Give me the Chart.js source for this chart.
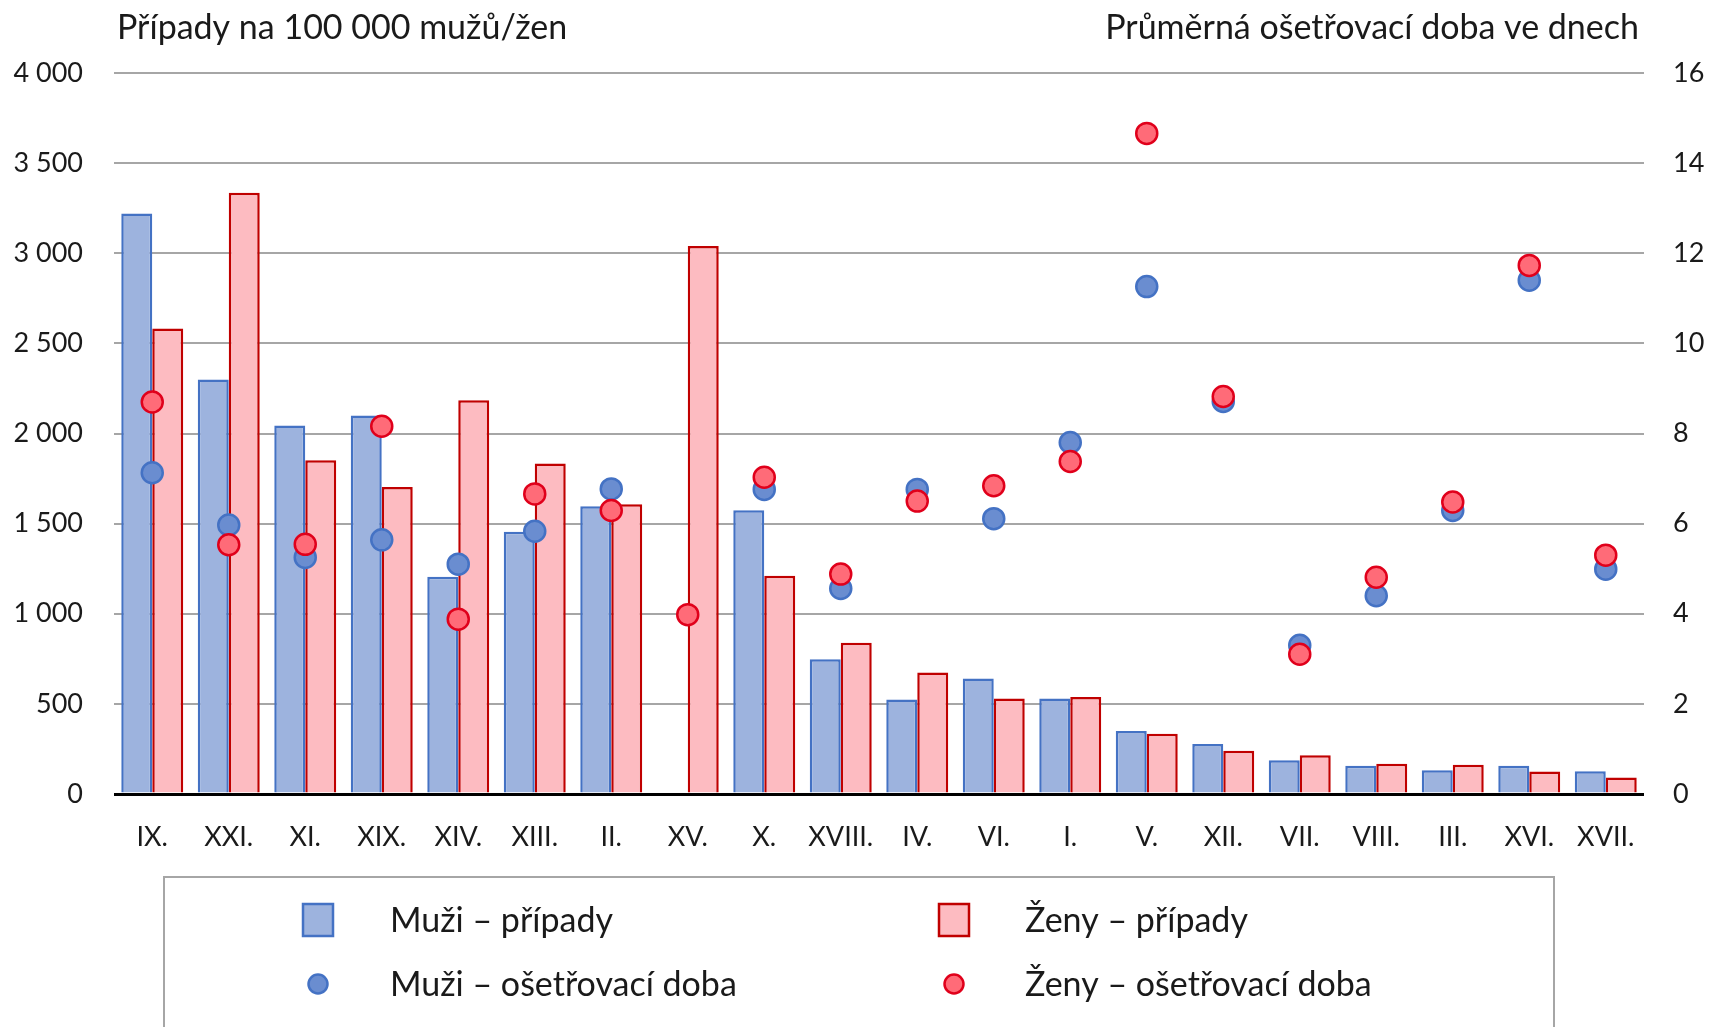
<!DOCTYPE html>
<html>
<head>
<meta charset="utf-8">
<script src="https://cdn.jsdelivr.net/npm/chart.js@4.4.1/dist/chart.umd.min.js"></script>
<style>
  html, body { margin: 0; padding: 0; background: #fff; }
  canvas { display: block; }
</style>
</head>
<body>
<canvas id="chart" width="1709" height="1027"></canvas>
<script>
// categories (diagnosis chapters) in the order shown
const categories = ["IX.", "XXI.", "XI.", "XIX.", "XIV.", "XIII.", "II.", "XV.", "X.", "XVIII.",
  "IV.", "VI.", "I.", "V.", "XII.", "VII.", "VIII.", "III.", "XVI.", "XVII."];

// cases per 100 000 men / women (left axis)
const muziPripady = [3220, 2300, 2045, 2100, 1205, 1455, 1597, null, 1574, 748,
  524, 641, 530, 350, 278, 187, 157, 132, 157, 126];
const zenyPripady = [2582, 3335, 1852, 1703, 2184, 1833, 1608, 3040, 1211, 839,
  674, 530, 538, 334, 240, 215, 168, 162, 125, 91];

// average treatment length in days (right axis)
const muziDoba = [7.13, 5.97, 5.25, 5.64, 5.10, 5.83, 6.77, null, 6.76, 4.56,
  6.76, 6.11, 7.80, 11.26, 8.71, 3.30, 4.40, 6.29, 11.40, 4.99];
const zenyDoba = [8.70, 5.53, 5.54, 8.16, 3.88, 6.66, 6.29, 3.98, 7.03, 4.88,
  6.50, 6.84, 7.38, 14.66, 8.82, 3.10, 4.81, 6.48, 11.73, 5.30];

const leftTitle = "Případy na 100 000 mužů/žen";
const rightTitle = "Průměrná ošetřovací doba ve dnech";

const FONT = "Lato";
const TEXT_SIZE = 34;   // captions + legend
const TICK_SIZE = 27;

const fmt = (v) => String(v).replace(/\B(?=(\d{3})+(?!\d))/g, " ");

// draws the two axis captions on top and the boxed 2x2 legend at the bottom
const extras = {
  id: "extras",
  afterDraw(chart) {
    const ctx = chart.ctx;
    const area = chart.chartArea;
    ctx.save();
    ctx.fillStyle = "#1a1a1a";
    ctx.font = TEXT_SIZE + "px " + FONT;
    ctx.textBaseline = "middle";
    ctx.textAlign = "left";
    ctx.fillText(leftTitle, area.left + 3, 28);
    ctx.textAlign = "right";
    ctx.fillText(rightTitle, area.right - 5, 28);

    // legend box
    ctx.strokeStyle = "#A6A6A6";
    ctx.lineWidth = 2;
    ctx.beginPath();
    ctx.moveTo(164, 1030);
    ctx.lineTo(164, 877);
    ctx.lineTo(1554, 877);
    ctx.lineTo(1554, 1030);
    ctx.stroke();

    const ds = chart.data.datasets;
    const slots = [
      { d: ds[0], x: 318, y: 920, tx: 390 },
      { d: ds[1], x: 954, y: 920, tx: 1025 },
      { d: ds[2], x: 318, y: 984, tx: 390 },
      { d: ds[3], x: 954, y: 984, tx: 1025 },
    ];
    slots.forEach((s) => {
      ctx.lineWidth = 2.5;
      if (s.d.type === "bar") {
        ctx.fillStyle = s.d.backgroundColor;
        ctx.strokeStyle = s.d.borderColor;
        ctx.fillRect(s.x - 15, s.y - 16, 30, 32);
        ctx.strokeRect(s.x - 15, s.y - 16, 30, 32);
      } else {
        ctx.fillStyle = s.d.pointBackgroundColor;
        ctx.strokeStyle = s.d.pointBorderColor;
        ctx.beginPath();
        ctx.arc(s.x, s.y, 9.5, 0, Math.PI * 2);
        ctx.fill();
        ctx.stroke();
      }
      ctx.fillStyle = "#1a1a1a";
      ctx.textAlign = "left";
      ctx.fillText(s.d.label, s.tx, s.y + 1);
    });
    ctx.restore();
  },
};

new Chart(document.getElementById("chart"), {
  data: {
    labels: categories,
    datasets: [
      {
        type: "bar",
        label: "Muži – případy",
        data: muziPripady,
        yAxisID: "y",
        backgroundColor: "#9DB3DE",
        borderColor: "#4472C4",
        borderWidth: 2.5,
        categoryPercentage: 0.81,
        barPercentage: 1.0,
        order: 2,
      },
      {
        type: "bar",
        label: "Ženy – případy",
        data: zenyPripady,
        yAxisID: "y",
        backgroundColor: "#FDBBC1",
        borderColor: "#C00000",
        borderWidth: 2.5,
        categoryPercentage: 0.81,
        barPercentage: 1.0,
        order: 3,
      },
      {
        type: "line",
        label: "Muži – ošetřovací doba",
        data: muziDoba,
        yAxisID: "y1",
        showLine: false,
        pointRadius: 10.5,
        pointBorderWidth: 2.5,
        pointBackgroundColor: "#6A8DD0",
        pointBorderColor: "#4472C4",
        order: 1,
      },
      {
        type: "line",
        label: "Ženy – ošetřovací doba",
        data: zenyDoba,
        yAxisID: "y1",
        showLine: false,
        pointRadius: 10.5,
        pointBorderWidth: 2.5,
        pointBackgroundColor: "#FF6B78",
        pointBorderColor: "#E0001B",
        order: 0,
      },
    ],
  },
  options: {
    responsive: false,
    animation: false,
    devicePixelRatio: 1,
    layout: { padding: { top: 73, left: 0, right: 0, bottom: 0 } },
    plugins: {
      legend: { display: false },
      tooltip: { enabled: false },
    },
    scales: {
      x: {
        offset: true,
        grid: { display: false },
        border: { display: false },
        ticks: {
          color: "#1a1a1a",
          font: { family: FONT, size: TICK_SIZE },
          padding: 19,
          maxRotation: 0,
          autoSkip: false,
        },
        afterFit: (s) => { s.height = 233; },
      },
      y: {
        position: "left",
        min: 0,
        max: 4000,
        border: { display: false },
        grid: {
          drawTicks: false,
          color: (c) => (c.tick && c.tick.value === 0 ? "#000" : "#A6A6A6"),
          lineWidth: (c) => (c.tick && c.tick.value === 0 ? 3 : 2),
        },
        ticks: {
          stepSize: 500,
          padding: 31,
          color: "#1a1a1a",
          font: { family: FONT, size: TICK_SIZE },
          callback: (v) => fmt(v),
        },
        afterFit: (s) => { s.width = 114; },
      },
      y1: {
        position: "right",
        min: 0,
        max: 16,
        border: { display: false },
        grid: { drawOnChartArea: false, drawTicks: false },
        ticks: {
          stepSize: 2,
          padding: 29,
          color: "#1a1a1a",
          font: { family: FONT, size: TICK_SIZE },
        },
        afterFit: (s) => { s.width = 65; },
      },
    },
  },
  plugins: [extras],
});
</script>
</body>
</html>
